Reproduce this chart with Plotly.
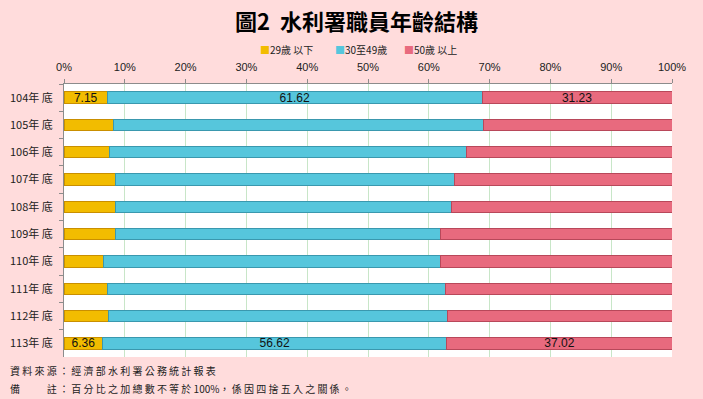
import plotly.graph_objects as go

categories = ["104年 底", "105年 底", "106年 底", "107年 底", "108年 底",
              "109年 底", "110年 底", "111年 底", "112年 底", "113年 底"]
series_names = ["29歲 以下", "30至49歲", "50歲 以上"]
age_under29 = [7.15, 8.06, 7.50, 8.40, 8.40, 8.40, 6.50, 7.10, 7.40, 6.36]
age_30_49 = [61.62, 60.90, 58.70, 55.90, 55.40, 53.50, 55.50, 55.60, 55.60, 56.62]
age_50plus = [31.23, 31.04, 33.80, 35.70, 36.20, 38.10, 38.00, 37.30, 37.00, 37.02]
labelled_rows = ["104年 底", "113年 底"]
x_ticks = [0, 10, 20, 30, 40, 50, 60, 70, 80, 90, 100]
x_tick_text = [f"{t}%" for t in x_ticks]

colors = ["#F2BC00", "#56C6DC", "#E86A7E"]
edge_colors = ["#C98F00", "#3A98AE", "#B8485A"]

fig = go.Figure()
for name, vals, c, ec in zip(series_names, [age_under29, age_30_49, age_50plus], colors, edge_colors):
    texts = [f"{v:.2f}" if cat in labelled_rows else "" for cat, v in zip(categories, vals)]
    fig.add_trace(go.Bar(
        y=categories, x=vals, name=name, orientation="h",
        marker=dict(color=c, line=dict(color=ec, width=1)),
        text=texts, textposition="inside", insidetextanchor="middle",
        textfont=dict(family="Liberation Sans, Arial", size=12, color="#111111"),
        width=0.42, cliponaxis=False, showlegend=False,
    ))

fig.update_layout(
    barmode="stack",
    width=703, height=399,
    paper_bgcolor="#FFDCDC",
    plot_bgcolor="#FFFFFF",
    margin=dict(l=64, r=31, t=84, b=42),
    title=dict(text="<b>圖2  水利署職員年齡結構</b>", x=0.507, xanchor="center", y=0.945, yanchor="middle",
               font=dict(family="Noto Sans CJK TC", size=22, color="#000000")),
    uniformtext=dict(mode="show", minsize=8),
    showlegend=False,
)

# custom compact legend (Excel style)
legend_x = [258, 333, 402]
for name, c, lx in zip(series_names, colors, legend_x):
    fig.add_annotation(xref="paper", yref="paper", x=(lx - 64) / 608, y=1.125,
                       xanchor="left", yanchor="middle", showarrow=False,
                       text=f"<span style='color:{c}'>■</span>{name}",
                       font=dict(family="Noto Sans CJK TC", size=10, color="#222222"))

fig.update_xaxes(
    range=[0, 100], side="top", tickvals=x_ticks, ticktext=x_tick_text,
    tickfont=dict(family="Liberation Sans, Arial", size=11, color="#222222"),
    showgrid=True, gridcolor="#C8E6C8", gridwidth=1,
    showline=True, linecolor="#8C8C8C", ticks="outside", ticklen=4, tickcolor="#8C8C8C",
    mirror=False, zeroline=False, fixedrange=True, ticklabelstandoff=4, automargin=False,
)
fig.update_yaxes(
    categoryorder="array", categoryarray=categories, autorange="reversed",
    tickfont=dict(family="Noto Sans CJK TC", size=11, color="#222222"),
    showline=True, linecolor="#8C8C8C", ticks="outside", ticklen=4, tickcolor="#8C8C8C",
    tickson="boundaries", showgrid=False, fixedrange=True, ticklabelstandoff=8, automargin=False,
)

fig.add_annotation(xref="paper", yref="paper", x=-0.092, y=-0.051, xanchor="left", yanchor="middle",
                   text="資 料 來 源 ： 經 濟 部 水 利 署 公 務 統 計 報 表", showarrow=False,
                   font=dict(family="Noto Sans CJK TC", size=10, color="#222222"))
fig.add_annotation(xref="paper", yref="paper", x=-0.092, y=-0.114, xanchor="left", yanchor="middle",
                   text="備 　 　 註 ： 百 分 比 之 加 總 數 不 等 於 100%， 係 因 四 捨 五 入 之 關 係 。", showarrow=False,
                   font=dict(family="Noto Sans CJK TC", size=10, color="#222222"))

fig.write_html("out.html")
